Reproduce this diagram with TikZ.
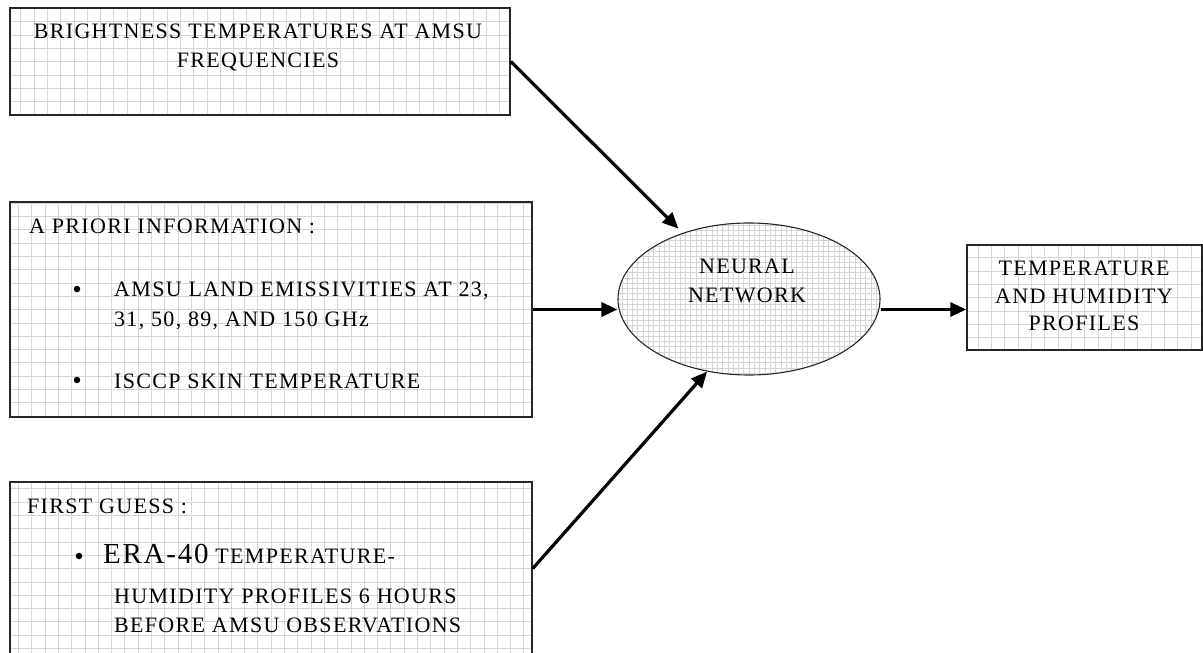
\documentclass[tikz,border=0pt]{standalone}
\usepackage{fontspec}
\setmainfont{Liberation Serif}[LetterSpace=6]
\usetikzlibrary{arrows.meta,shapes.geometric}
\begin{document}
\begin{tikzpicture}[x=1pt,y=-1pt,
  gridbox/.style={draw=black!85, line width=1.5pt, fill=white, inner sep=0pt,
    path picture={\draw[black!16, line width=0.6pt, step=13.3pt]
      (path picture bounding box.south west) grid (path picture bounding box.north east);}},
  gridell/.style={ellipse, draw=black!85, line width=1.1pt, fill=white, inner sep=0pt,
    path picture={\draw[black!17, line width=0.5pt, step=5.3pt]
      (path picture bounding box.south west) grid (path picture bounding box.north east);}},
  txt/.style={inner sep=0pt, font=\fontsize{22}{26}\selectfont},
  dot/.style={circle, fill=black, inner sep=0pt, minimum size=6.5pt},
  conn/.style={line width=3.2pt, -{Triangle[length=16pt,width=14pt]}}
]
\fill[white] (0,0) rectangle (1203,653);
\useasboundingbox (0,0) rectangle (1203,653);

% boxes
\node[gridbox, minimum width=500pt, minimum height=107pt] (b1) at (260,61.5) {};
\node[gridbox, minimum width=522pt, minimum height=215pt] (b2) at (271,309.5) {};
\node[gridbox, minimum width=522pt, minimum height=173pt] (b3) at (271,568.5) {};
\node[gridell, minimum width=262pt, minimum height=152pt] (nn) at (749,299) {};
\node[gridbox, minimum width=235pt, minimum height=105pt] (out) at (1084.5,297.5) {};

% box 1 text
\node[txt, anchor=base] (t1a) at (258,38) {BRIGHTNESS TEMPERATURES AT AMSU};
\node[txt, anchor=base] (t1b) at (258,67) {FREQUENCIES};

% box 2 text
\node[txt, anchor=base west] (t2a) at (29,233) {A PRIORI INFORMATION :};
\node[dot] (d2a) at (77,289) {};
\node[txt, anchor=base west] (t2b) at (114,296) {AMSU LAND EMISSIVITIES AT 23,};
\node[txt, anchor=base west] (t2c) at (114,326) {31, 50, 89, AND 150 GHz};
\node[dot] (d2b) at (77,380) {};
\node[txt, anchor=base west] (t2d) at (114,388) {ISCCP SKIN TEMPERATURE};

% box 3 text
\node[txt, anchor=base west] (t3a) at (27,513) {FIRST GUESS :};
\node[dot] (d3a) at (79,556) {};
\node[txt, anchor=base west] (t3b) at (103,563) {{\fontsize{29}{32}\selectfont ERA-40} TEMPERATURE-};
\node[txt, anchor=base west] (t3c) at (114,603) {HUMIDITY PROFILES 6 HOURS};
\node[txt, anchor=base west] (t3d) at (114,632) {BEFORE AMSU OBSERVATIONS};

% ellipse text
\node[txt, anchor=base] (n1) at (747,273) {NEURAL};
\node[txt, anchor=base] (n2) at (747,302) {NETWORK};

% output text
\node[txt, anchor=base] (o1) at (1084,275) {TEMPERATURE};
\node[txt, anchor=base] (o2) at (1084,303) {AND HUMIDITY};
\node[txt, anchor=base] (o3) at (1084,330) {PROFILES};

% connectors
\draw[conn, shorten >=6pt] (b1.east) -- (nn);
\draw[conn] (b2.east) -- (b2.east -| nn.west);
\draw[conn] (b3.east) -- (nn.240);
\draw[conn] (b2.east -| nn.east) -- (b2.east -| out.west);
\end{tikzpicture}
\end{document}
